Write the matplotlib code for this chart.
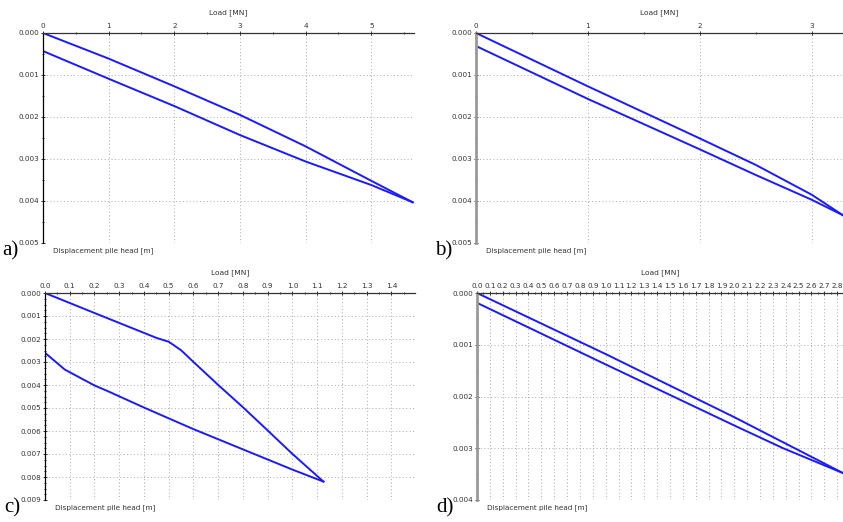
import matplotlib
matplotlib.use("Agg")
import matplotlib.pyplot as plt
from matplotlib.ticker import MultipleLocator, FormatStrFormatter

# ---------------------------------------------------------------
# Data: load [MN] vs pile head displacement [m]
# ---------------------------------------------------------------
a_load_up = [0.0, 1.0, 2.0, 3.0, 4.0, 5.0, 5.63]
a_disp_up = [0.0, 0.00061, 0.00127, 0.00195, 0.00270, 0.00352, 0.00403]
a_load_down = [5.63, 5.0, 4.0, 3.0, 2.0, 1.0, 0.0]
a_disp_down = [0.00403, 0.00362, 0.00306, 0.00243, 0.00174, 0.00109, 0.00043]

b_load_up = [0.0, 1.0, 2.0, 2.5, 3.0, 3.28]
b_disp_up = [0.0, 0.00127, 0.00251, 0.00314, 0.00385, 0.00434]
b_load_down = [3.28, 3.0, 2.5, 2.0, 1.0, 0.0]
b_disp_down = [0.00434, 0.00397, 0.00338, 0.00277, 0.00157, 0.00031]

c_load_up = [0.0, 0.2, 0.45, 0.5, 0.55, 0.6, 0.7, 0.8, 0.9, 1.0, 1.125]
c_disp_up = [0.0, 0.00087, 0.00195, 0.00212, 0.00249, 0.00300, 0.00400, 0.00497, 0.00598, 0.00700, 0.00820]
c_load_down = [1.125, 1.0, 0.8, 0.6, 0.4, 0.25, 0.2, 0.08, 0.0]
c_disp_down = [0.00820, 0.00768, 0.00680, 0.00592, 0.00498, 0.00425, 0.00402, 0.00333, 0.00260]

d_load_up = [0.0, 1.0, 2.0, 2.47, 2.845]
d_disp_up = [0.0, 0.00118, 0.00240, 0.00300, 0.00348]
d_load_down = [2.845, 2.38, 2.0, 1.0, 0.0]
d_disp_down = [0.00348, 0.00300, 0.00256, 0.00138, 0.00019]

panels = [
    # letter, up, down, xmax, ymax, x major, x minor, y minor, x fmt, left spine colour
    ("a)", (a_load_up, a_disp_up), (a_load_down, a_disp_down), 5.65, 0.005, 1.0, 0.5, 0.0005, "%d", "black"),
    ("b)", (b_load_up, b_disp_up), (b_load_down, b_disp_down), 3.28, 0.005, 1.0, 0.5, 0.0005, "%d", "#999999"),
    ("c)", (c_load_up, c_disp_up), (c_load_down, c_disp_down), 1.495, 0.009, 0.1, 0.05, 0.00025, "%.1f", "black"),
    ("d)", (d_load_up, d_disp_up), (d_load_down, d_disp_down), 2.845, 0.004, 0.1, 0.05, 0.0005, "%.1f", "#999999"),
]

# axes boxes in pixels: left, right, top, bottom
boxes = [(43, 414, 33, 243), (476, 843, 33, 243), (45, 415, 293, 500), (477, 843, 293, 500)]

W, H = 843, 522
fig = plt.figure(figsize=(W / 100, H / 100), dpi=100)
line_col = "#1c1cf0"

for (letter, up, down, xmax, ymax, xmaj, xmin, ymin, xfmt, lcol), (l, r, t, b) in zip(panels, boxes):
    ax = fig.add_axes([l / W, 1 - b / H, (r - l) / W, (b - t) / H])
    ax.plot(up[0], up[1], color=line_col, lw=1.4)
    ax.plot(down[0], down[1], color=line_col, lw=1.4)
    ax.set_xlim(0, xmax)
    ax.set_ylim(ymax, 0)

    ax.xaxis.tick_top()
    ax.xaxis.set_major_locator(MultipleLocator(xmaj))
    ax.xaxis.set_minor_locator(MultipleLocator(xmin))
    ax.xaxis.set_major_formatter(FormatStrFormatter(xfmt))
    ax.yaxis.set_major_locator(MultipleLocator(0.001))
    ax.yaxis.set_minor_locator(MultipleLocator(ymin))
    ax.yaxis.set_major_formatter(FormatStrFormatter("%.3f"))
    ax.tick_params(axis="both", which="both", labelsize=5.2, colors="#333333",
                   direction="inout", length=3, width=0.7, pad=1.5)
    ax.tick_params(axis="both", which="minor", length=2)

    ax.grid(True, which="major", linestyle=(0, (1, 2.5)), color="#aaaaaa", lw=0.7)
    for s in ("right", "bottom"):
        ax.spines[s].set_visible(False)
    ax.spines["top"].set_color("#333333")
    ax.spines["top"].set_linewidth(0.9)
    ax.spines["left"].set_color(lcol)
    ax.spines["left"].set_linewidth(0.9 if lcol == "black" else 2.0)

    ax.set_xlabel("Load [MN]", fontsize=5.4, color="#333333", labelpad=6)
    ax.xaxis.set_label_position("top")
    fig.text((l + 10) / W, 1 - (b + 8) / H, "Displacement pile head [m]",
             fontsize=5.2, color="#333333", va="center", ha="left")
    fig.text((l - 41) / W, 1 - (b + 8) / H, letter, fontsize=15,
             family="Liberation Serif", va="center", ha="left")

fig.savefig("out.png", dpi=100)
